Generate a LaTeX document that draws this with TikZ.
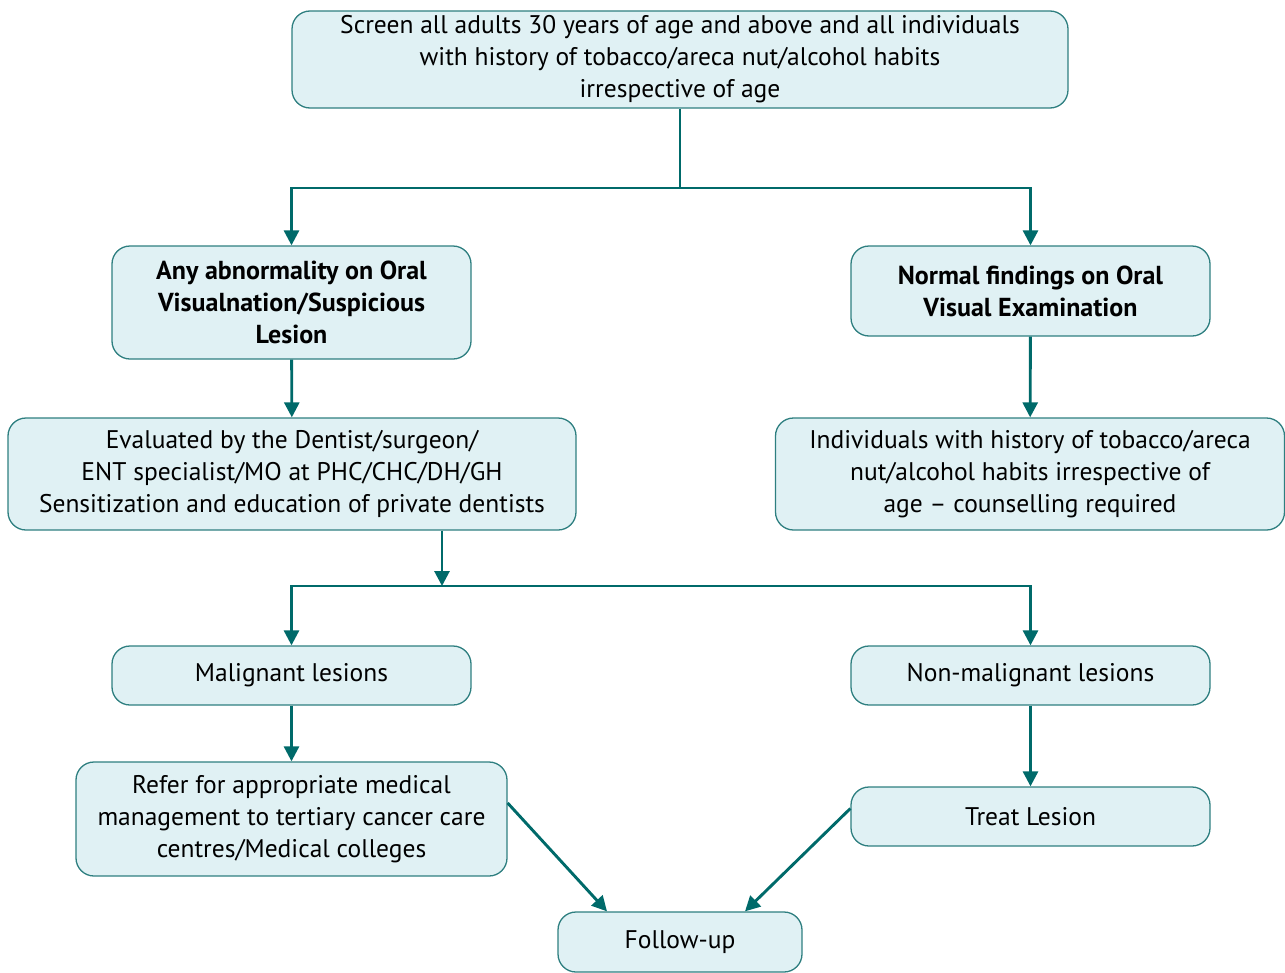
\documentclass[tikz,border=0pt]{standalone}
\usepackage{fontspec}
\setmainfont{PT Sans}
\usetikzlibrary{arrows.meta}
\definecolor{boxfill}{HTML}{E0F1F4}
\definecolor{boxline}{HTML}{2E7F80}
\definecolor{flowline}{HTML}{006A6A}
\begin{document}
\begin{tikzpicture}[x=1pt,y=-1pt,
    stage/.style={draw=boxline, fill=boxfill, line width=1.3pt, rounded corners=18pt,
        align=center, inner sep=0pt, font=\fontsize{25.5}{32}\selectfont},
    headstage/.style={stage, font=\fontsize{26}{32}\selectfont\bfseries},
    flow/.style={draw=flowline, line width=2.9pt},
    flowarrow/.style={flow, -{Triangle[length=15pt,width=15pt]}}]
    \useasboundingbox (0,0) rectangle (1285,972);

    \node[stage, minimum width=776pt, minimum height=97pt] (screen) at (680,59.5)
        {Screen all adults 30 years of age and above and all individuals\\
         with history of tobacco/areca nut/alcohol habits\\irrespective of age};
    \node[headstage, minimum width=359pt, minimum height=113pt] (abnormal) at (291.5,302.5)
        {Any abnormality on Oral\\Visualnation/Suspicious\\Lesion};
    \node[headstage, minimum width=359pt, minimum height=90pt] (normal) at (1030.5,291)
        {Normal findings on Oral\\Visual Examination};
    \node[stage, minimum width=568pt, minimum height=112pt] (evaluated) at (292,474)
        {Evaluated by the Dentist/surgeon/\\ENT specialist/MO at PHC/CHC/DH/GH\\Sensitization and education of private dentists};
    \node[stage, minimum width=509pt, minimum height=112pt] (counsel) at (1030,474)
        {Individuals with history of tobacco/areca\\nut/alcohol habits irrespective of\\age -- counselling required};
    \node[stage, minimum width=359pt, minimum height=59pt] (malignant) at (291.5,675.5) {Malignant lesions};
    \node[stage, minimum width=359pt, minimum height=59pt] (nonmalignant) at (1030.5,675.5) {Non-malignant lesions};
    \node[stage, minimum width=431pt, minimum height=114pt] (refer) at (291.5,819)
        {Refer for appropriate medical\\management to tertiary cancer care\\centres/Medical colleges};
    \node[stage, minimum width=359pt, minimum height=59pt] (treat) at (1030.5,816.5) {Treat Lesion};
    \node[stage, minimum width=244pt, minimum height=60pt] (followup) at (680,942) {Follow-up};

    \coordinate (split1) at (680,188);
    \coordinate (split2) at (442,586);

    \draw[flow] (screen.south) -- (split1);
    \draw[flowarrow] (split1) -| (abnormal.north);
    \draw[flowarrow] (split1) -| (normal.north);
    \draw[flowarrow] (abnormal) -- (evaluated);
    \draw[flowarrow] (normal) -- (counsel);
    \draw[flowarrow] (evaluated.south -| split2) -- (split2);
    \draw[flowarrow] (split2) -| (malignant.north);
    \draw[flowarrow] (split2) -| (nonmalignant.north);
    \draw[flowarrow] (malignant) -- (refer);
    \draw[flowarrow] (nonmalignant) -- (treat);
    \draw[flowarrow] (refer.east) ++(0,-16) -- (followup.north west -| 607,0);
    \draw[flowarrow] (treat.west) ++(0,-8) -- (followup.north east -| 745,0);
\end{tikzpicture}
\end{document}
